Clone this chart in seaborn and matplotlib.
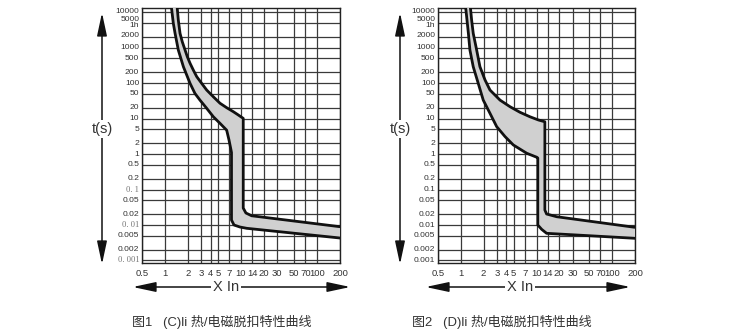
import numpy as np
import pandas as pd
import matplotlib
matplotlib.use("Agg")
import matplotlib.pyplot as plt
import seaborn as sns
from matplotlib.ticker import NullLocator
from matplotlib.patches import FancyArrowPatch
import matplotlib.transforms as mtransforms

# ---------------- data ----------------
x_ticks = [0.5, 1, 2, 3, 4, 5, 7, 10, 14, 20, 30, 50, 70, 100, 200]
x_tick_labels = ["0.5", "1", "2", "3", "4", "5", "7", "10", "14", "20", "30", "50", "70", "100", "200"]

y_grid = [10000, 5000, 2000, 1000, 500, 200, 100, 50, 20, 10, 5, 2, 1,
          0.5, 0.2, 0.1, 0.05, 0.02, 0.01, 0.005, 0.002, 0.001]
y_label_vals = [10000, 5000, 3600, 2000, 1000, 500, 200, 100, 50, 20, 10, 5, 2, 1,
                0.5, 0.2, 0.1, 0.05, 0.02, 0.01, 0.005, 0.002, 0.001]
y_tick_labels = ["10000", "5000", "1h", "2000", "1000", "500", "200", "100", "50", "20",
                 "10", "5", "2", "1", "0.5", "0.2", "0.1", "0.05", "0.02", "0.01",
                 "0.005", "0.002", "0.001"]

# C curve (figure 1): time (s) vs multiple of In
c_upper_x = [1.45, 1.46, 1.50, 1.58, 1.69, 1.84, 1.97, 2.14, 2.36, 2.62, 3.04, 3.54, 4.33,
             5.30, 6.48, 7.92, 9.21, 10.7, 10.7, 11.6, 13.8, 200]
c_upper_t = [13000, 11400, 5970, 2510, 1460, 852, 552, 360, 233, 151, 98, 63.5, 41,
             26.9, 20.2, 15.6, 12.6, 10.1, 0.030, 0.0218, 0.0182, 0.00895]
c_lower_x = [1.22, 1.23, 1.29, 1.36, 1.50, 1.75, 2.14, 2.48, 2.89, 3.54, 4.33, 5.30, 6.48,
             6.95, 7.39, 7.5, 7.5, 8.09, 9.7, 11.9, 200]
c_lower_t = [13000, 11400, 4820, 2510, 852, 288, 98, 51, 33, 19.4, 11.2, 7.3, 4.7,
             2.5, 1.3, 1.1, 0.0138, 0.0100, 0.00877, 0.00807, 0.0043]

# D curve (figure 2)
d_upper_x = [1.34, 1.35, 1.39, 1.46, 1.62, 1.79, 2.09, 2.43, 3.30, 4.47, 6.05, 8.2, 10.6,
             12.9, 12.9, 13.6, 18.5, 200]
d_upper_t = [13000, 11400, 5970, 2510, 852, 288, 122, 63.5, 33, 21.5, 15, 11.2, 9.1,
             8.1, 0.0264, 0.0204, 0.0171, 0.0086]
d_lower_x = [1.16, 1.17, 1.22, 1.26, 1.32, 1.46, 1.70, 1.98, 2.43, 2.98, 3.84, 4.94, 7.43,
             10.1, 10.4, 10.4, 11.7, 13.6, 200]
d_lower_t = [13000, 11400, 4820, 2510, 852, 288, 98, 33, 14, 5.9, 3.1, 1.8, 1.05,
             0.81, 0.77, 0.0100, 0.00755, 0.00583, 0.00422]

captions = ["图1   (C)li 热/电磁脱扣特性曲线", "图2   (D)li 热/电磁脱扣特性曲线"]

# ---------------- figure ----------------
sns.set_theme(style="white")
plt.rcParams["font.family"] = ["Liberation Sans", "Noto Sans CJK SC", "DejaVu Sans"]

W, H = 750, 333
fig = plt.figure(figsize=(W / 100, H / 100), dpi=100)
fig.patch.set_facecolor("white")

def fx(x):
    return x / W

def fy(y):
    return 1 - y / H

TXT = "#333333"
GRID = "#3a3a3a"

def make_axes(left_px, right_px, ux, ut, lx, lt, serif_small):
    top_px, bot_px = 8, 263
    ax = fig.add_axes([fx(left_px), fy(bot_px), (right_px - left_px) / W, (bot_px - top_px) / H])
    ax.set_xscale("log")
    ax.set_yscale("log")
    ax.set_xlim(0.5, 200)
    ax.set_ylim(0.00085, 13000)
    ax.set_facecolor("white")

    ax.set_xticks(x_ticks, x_tick_labels)
    ax.set_yticks(y_grid, [""] * len(y_grid))
    ax.xaxis.set_minor_locator(NullLocator())
    ax.yaxis.set_minor_locator(NullLocator())
    ax.tick_params(axis="both", length=0)
    ax.tick_params(axis="x", labelsize=6.8, pad=4, colors=TXT)
    ax.grid(True, color=GRID, lw=0.9)
    for s in ax.spines.values():
        s.set_color("#222222")
        s.set_linewidth(1.0)

    # y labels drawn as text (crowded at top like the reference)
    trans = mtransforms.blended_transform_factory(ax.transAxes, ax.transData)
    offsets = {10000: 0.3, 5000: 2.6, 3600: 1.8, 2000: 0.9}
    for v, lab in zip(y_label_vals, y_tick_labels):
        dy = offsets.get(v, 0.0)
        t = mtransforms.offset_copy(trans, fig=fig, x=-2, y=dy, units="points")
        if serif_small and lab in ("0.1", "0.01", "0.001"):
            lab2 = lab.replace("0.", "0. ")
            ax.text(0, v, lab2, transform=t, ha="right", va="center", fontsize=6.2,
                    family=["Liberation Serif"], color="#777777")
        else:
            ax.text(0, v, lab, transform=t, ha="right", va="center", fontsize=6.1,
                    color=TXT)

    # band
    px = list(ux) + list(lx)[::-1]
    pt = list(ut) + list(lt)[::-1]
    ax.fill(px, pt, color="#d0d0d0", zorder=3, lw=0)
    sns.lineplot(x=ux, y=ut, ax=ax, sort=False, estimator=None, color="#111111", lw=2.0, zorder=4)
    sns.lineplot(x=lx, y=lt, ax=ax, sort=False, estimator=None, color="#111111", lw=2.0, zorder=4)
    for ln in ax.lines:
        ln.set_solid_joinstyle("round")
    ax.set_xlabel("")
    ax.set_ylabel("")
    return ax

ax1 = make_axes(142, 340, c_upper_x, c_upper_t, c_lower_x, c_lower_t, True)
ax2 = make_axes(438, 635, d_upper_x, d_upper_t, d_lower_x, d_lower_t, False)

def arrow(p0, p1):
    a = FancyArrowPatch(p0, p1, transform=fig.transFigure,
                        arrowstyle="<|-|>,head_length=14,head_width=3",
                        mutation_scale=1, color="#111111", lw=1.1)
    fig.add_artist(a)

for (xa, xl, xr, xc) in [(102, 130, 353, 226), (400, 423, 633, 520)]:
    # vertical t(s) arrow
    arrow((fx(xa), fy(10)), (fx(xa), fy(267)))
    fig.text(fx(xa), fy(129), "t(s)", ha="center", va="center", fontsize=10.5, color=TXT,
             bbox=dict(facecolor="white", edgecolor="none", pad=1.5))
    # horizontal X In arrow
    arrow((fx(xl), fy(287)), (fx(xr), fy(287)))
    fig.text(fx(xc), fy(287), "X In", ha="center", va="center", fontsize=10.5, color=TXT,
             bbox=dict(facecolor="white", edgecolor="none", pad=1.0))

fig.text(fx(132), fy(322), captions[0], ha="left", va="center", fontsize=9.4, color=TXT)
fig.text(fx(412), fy(322), captions[1], ha="left", va="center", fontsize=9.4, color=TXT)

fig.savefig("out.png", dpi=100, facecolor="white")
